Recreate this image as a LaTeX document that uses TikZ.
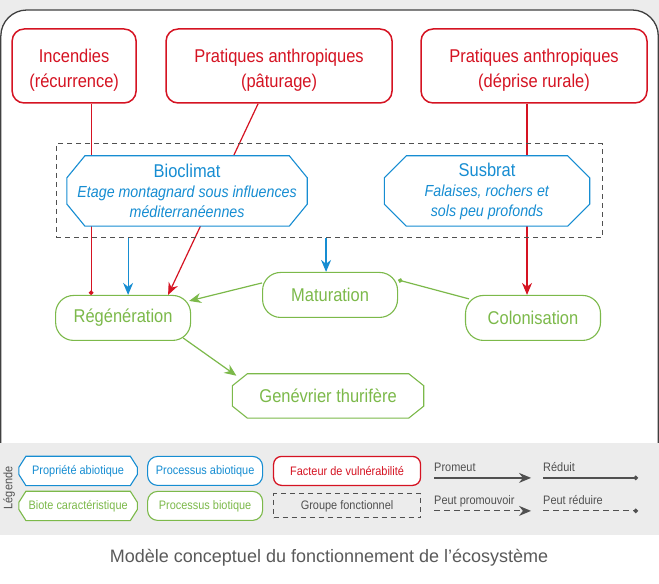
\documentclass[tikz,border=0pt]{standalone}
\usepackage{fontspec}
\setmainfont{Liberation Sans}[FakeStretch=0.89]
\newfontfamily\plainsans{Liberation Sans}
\usetikzlibrary{positioning}
\usetikzlibrary{arrows.meta}
\usetikzlibrary{backgrounds}

\definecolor{vred}{RGB}{213,19,34}
\definecolor{ablue}{RGB}{22,141,210}
\definecolor{bgreen}{RGB}{124,185,74}
\definecolor{dgray}{RGB}{80,80,80}
\definecolor{bandgray}{RGB}{236,236,236}
% octagon drawn round a node: name, x chamfer, y chamfer, style
\newcommand{\octagon}[4]{\draw[#4] ([xshift=#2]#1.north west) -- ([xshift=-#2]#1.north east) -- ([yshift=-#3]#1.north east) -- ([yshift=#3]#1.south east) -- ([xshift=-#2]#1.south east) -- ([xshift=#2]#1.south west) -- ([yshift=#3]#1.south west) -- ([yshift=-#3]#1.north west) -- cycle;}

\begin{document}
\begin{tikzpicture}[
	x=1pt, y=-1pt,
	big/.style={font=\fontsize{18.5}{25}\selectfont},
	mid/.style={font=\fontsize{16}{20}\selectfont},
	small/.style={font=\fontsize{12.3}{14}\selectfont},
	factor/.style={draw=vred, text=vred, line width=1.5pt, rounded corners=12pt, fill=white, align=center, inner sep=0pt},
	octo/.style={rectangle, align=center, inner sep=0pt},
	abio/.style={draw=ablue, fill=white, line width=1.1pt},
	bio/.style={draw=bgreen, fill=white, line width=1.1pt},
	aproc/.style={draw=ablue, text=ablue, line width=1.1pt, rounded corners=10pt, fill=white, align=center, inner sep=0pt},
	bproc/.style={draw=bgreen, text=bgreen, line width=1.1pt, rounded corners=18pt, fill=white, align=center, inner sep=0pt},
	group/.style={draw=dgray, line width=1pt, dash pattern=on 5pt off 4pt, inner sep=0pt},
	promote/.style={-{Stealth[length=12pt, width=10pt]}, line width=1.2pt},
	reduce/.style={-{Circle[length=4.5pt]}, line width=1.2pt},
	legline/.style={draw=dgray, line width=1.2pt}
	]
	% Frame
	\begin{scope}[on background layer]
		\fill[bandgray] (0,0) rectangle (659,40);
		\draw[fill=white, draw=black!75, line width=1.3pt, rounded corners=26pt] (0.7,443) -- (0.7,10) -- (658.3,10) -- (658.3,443);
		\fill[bandgray] (0,443) rectangle (659,535);
	\end{scope}
	
	% Nodes
	\node[group, minimum width=546pt, minimum height=94pt] (group) at (329,191) {};
	\node[factor, big, text height=46pt, minimum width=124pt, minimum height=74pt] (fire) at (74,66) {Incendies\\(récurrence)};
	\node[factor, big, text height=46pt, minimum width=226pt, minimum height=74pt] (graze) at (279,66) {Pratiques anthropiques\\(pâturage)};
	\node[factor, big, text height=46pt, minimum width=226pt, minimum height=74pt] (rural) at (534,66) {Pratiques anthropiques\\(déprise rurale)};
	\node[octo, mid, text=ablue, minimum width=240pt, minimum height=70pt] (clim) at (187,191) {{\fontsize{18.5}{20}\selectfont Bioclimat}\\\textit{Etage montagnard sous influences}\\\textit{méditerranéennes}};
	\node[octo, mid, text=ablue, minimum width=205pt, minimum height=70pt] (soil) at (487,191) {{\fontsize{18.5}{20}\selectfont Susbrat}\\\textit{Falaises, rochers et}\\\textit{sols peu profonds}};
	\node[bproc, big, minimum width=135pt, minimum height=45pt] (regen) at (123,318) {Régénération};
	\node[bproc, big, minimum width=135pt, minimum height=45pt] (matur) at (330,295) {Maturation};
	\node[bproc, big, minimum width=135pt, minimum height=45pt] (colon) at (533,318) {Colonisation};
	\node[octo, big, text=bgreen, minimum width=191pt, minimum height=44pt] (juni) at (328,396) {Genévrier thurifère};
	
	% Edges
	\begin{scope}[on background layer]
		\draw[reduce, vred] (fire.south -| 91,0) -- (regen.north -| 91,0);
		\draw[promote, vred] (graze.south -| 258,0) -- (regen.north -| 168,0);
		\draw[promote, vred] (rural.south -| 527,0) -- (colon.north -| 527,0);
		\draw[promote, ablue] (group.south -| 128,0) -- (regen.north -| 128,0);
		\draw[promote, ablue] (group.south -| 326,0) -- (matur.north -| 326,0);
		\draw[promote, bgreen] ([yshift=12pt]matur.west) -- ([xshift=-2pt, yshift=17pt]regen.east);
		\draw[reduce, bgreen] ([xshift=4pt, yshift=-4pt]colon.north west) -- ([yshift=15pt]matur.east);
		\draw[promote, bgreen] ([xshift=-8pt, yshift=3pt]regen.south east) -- ([xshift=4pt, yshift=-2pt]juni.north west);
		% octagons over the edges
		\octagon{clim}{18pt}{22pt}{abio}
		\octagon{soil}{22pt}{22pt}{abio}
		\octagon{juni}{15pt}{12pt}{bio}
	\end{scope}
	
	% Legend
	\node[small, rotate=90, text=dgray] (legend) at (9,488) {Légende};
	\node[octo, small, text=ablue, minimum width=118pt, minimum height=29pt] (lprop) at (78,471) {Propriété abiotique};
	\node[aproc, small, minimum width=115pt, minimum height=29pt] (laproc) at (205,471) {Processus abiotique};
	\node[factor, small, line width=1.3pt, rounded corners=8pt, minimum width=147pt, minimum height=29pt] (lfact) at (347,471) {Facteur de vulnérabilité};
	\node[octo, small, text=bgreen, minimum width=118pt, minimum height=29pt] (lbiote) at (78,506) {Biote caractéristique};
	\node[bproc, small, rounded corners=10pt, minimum width=115pt, minimum height=29pt] (lbproc) at (205,506) {Processus biotique};
	\node[group, small, text=dgray, minimum width=147pt, minimum height=24pt] (lgroup) at (347,506) {Groupe fonctionnel};
	\begin{scope}[on background layer]
		\octagon{lprop}{7pt}{11pt}{abio}
		\octagon{lbiote}{7pt}{11pt}{bio}
	\end{scope}
	
	\coordinate (prom1) at (434,478);
	\coordinate (prom2) at (531,478);
	\coordinate (red1) at (543,478);
	\coordinate (red2) at (638,478);
	\coordinate (mprom1) at (434,511);
	\coordinate (mprom2) at (531,511);
	\coordinate (mred1) at (543,511);
	\coordinate (mred2) at (638,511);
	\draw[legline, promote] (prom1) -- (prom2);
	\draw[legline, reduce] (red1) -- (red2);
	\draw[legline, promote, dash pattern=on 6pt off 4pt] (mprom1) -- (mprom2);
	\draw[legline, reduce, dash pattern=on 6pt off 4pt] (mred1) -- (mred2);
	\node[small, text=dgray, anchor=base west, inner sep=0pt] (tprom) at (434,472) {Promeut};
	\node[small, text=dgray, anchor=base west, inner sep=0pt] (tred) at (543,472) {Réduit};
	\node[small, text=dgray, anchor=base west, inner sep=0pt] (tmprom) at (434,505) {Peut promouvoir};
	\node[small, text=dgray, anchor=base west, inner sep=0pt] (tmred) at (543,505) {Peut réduire};
	
	% Caption
	\node[font=\plainsans\fontsize{18}{20}\selectfont, text=black!65] (caption) at (329,558) {Modèle conceptuel du fonctionnement de l’écosystème};
	\useasboundingbox (0,0) rectangle (659,584);
\end{tikzpicture}
\end{document}
